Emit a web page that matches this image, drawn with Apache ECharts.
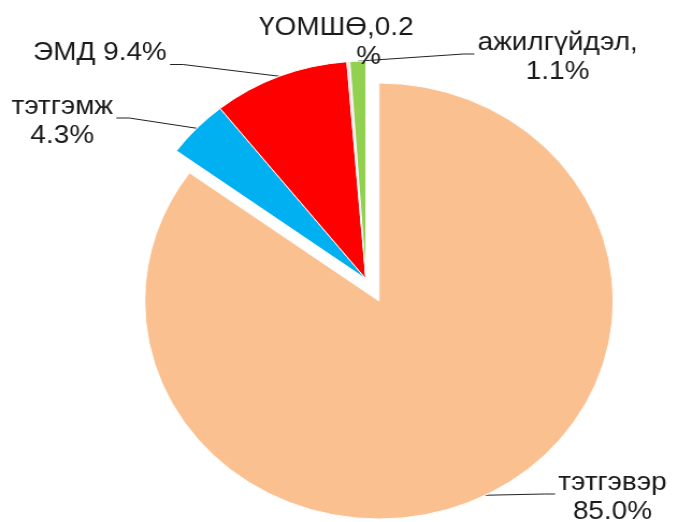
<!DOCTYPE html>
<html>
<head>
<meta charset="utf-8">
<script src="https://cdn.jsdelivr.net/npm/echarts@6/dist/echarts.min.js"></script>
<style>
  html, body { margin: 0; padding: 0; background: #fff; overflow: hidden; }
  /* the source picture is a little wider than tall, so stretch the whole chart */
  #chart { width: 631px; height: 522px; transform: scaleX(1.0745); transform-origin: 0 0; }
</style>
</head>
<body>
<div id="chart"></div>
<script>
  var names = ['тэтгэвэр', 'тэтгэмж', 'ЭМД', 'ҮОМШӨ', 'ажилгүйдэл'];
  var shares = [85.0, 4.3, 9.4, 0.2, 1.1];
  var colors = ['#FAC090', '#00B0F0', '#FF0000', '#F2DCDB', '#92D050'];
  // how each label is worded/wrapped
  var labelTpl = ['{n}\n{v}%', '{n}\n{v}%', '{n} {v}%', '{n},{v}\n{pc|%}', '{n},\n{v}%'];
  // where the label boxes sit (chart px, before stretch)
  var labelSpot = [[570, 497], [58, 121], [93, 53], [313, 42], [519, 57]];
  // which side of the label the leader line leaves from
  var lineSide = ['left', 'right', 'right', null, 'left'];

  var font = 'Liberation Sans, Arial, sans-serif';

  function fmt(i) {
    return labelTpl[i].replace('{n}', names[i]).replace('{v}', shares[i].toFixed(1));
  }

  // big slice stays put, the four small ones are pulled out together
  function buildData(exploded) {
    return names.map(function (n, i) {
      var mine = exploded ? i > 0 : i === 0;
      return {
        name: n,
        value: shares[i],
        itemStyle: mine
          ? { color: colors[i], borderColor: '#fff', borderWidth: 1 }
          : { color: 'rgba(0,0,0,0)', borderWidth: 0 },
        label: { show: mine },
        labelLine: { show: mine && lineSide[i] !== null },
        emphasis: { disabled: true }
      };
    });
  }

  function pieSeries(center, exploded) {
    return {
      type: 'pie',
      center: center,
      radius: 218,
      startAngle: 90,
      clockwise: true,
      silent: true,
      animation: false,
      avoidLabelOverlap: false,
      data: buildData(exploded),
      label: {
        position: 'outside',
        formatter: function (p) { return fmt(p.dataIndex); },
        color: '#1a1a1a',
        fontFamily: font,
        fontSize: 26,
        lineHeight: 29,
        align: 'center',
        rich: {
          pc: { color: '#1a1a1a', fontFamily: font, fontSize: 26, lineHeight: 29, padding: [0, 0, 0, 60] }
        }
      },
      labelLine: {
        length: 15,
        length2: 15,
        lineStyle: { color: '#222', width: 1 }
      },
      labelLayout: function (params) {
        var i = params.dataIndex;
        var s = labelSpot[i];
        var out = { x: s[0], y: s[1], align: 'center', verticalAlign: 'middle' };
        var side = lineSide[i];
        if (side && params.labelLinePoints) {
          var w = params.labelRect.width, h = params.labelRect.height;
          var yy = s[1] - h / 2 + 26;
          var x2 = side === 'left' ? s[0] - w / 2 - 3 : s[0] + w / 2 + 3;
          var x1 = side === 'left' ? x2 - 10 : x2 + 12;
          out.labelLinePoints = [params.labelLinePoints[0], [x1, yy], [x2, yy]];
        }
        return out;
      }
    };
  }

  var myChart = echarts.init(document.getElementById('chart'));
  var option = {
    backgroundColor: '#fff',
    series: [
      pieSeries([352.7, 301], false),
      pieSeries([340.6, 279], true)
    ]
  };
  myChart.setOption(option);
</script>
</body>
</html>
